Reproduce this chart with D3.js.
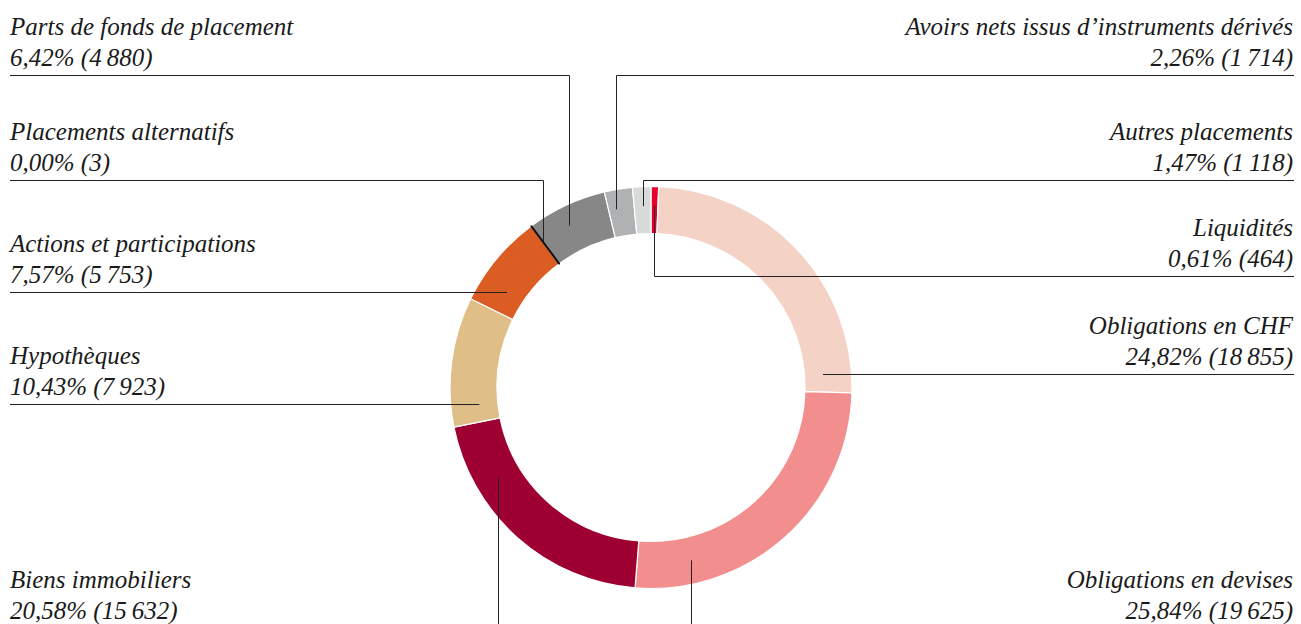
<!DOCTYPE html>
<html>
<head>
<meta charset="utf-8">
<script src="https://cdn.jsdelivr.net/npm/d3@7"></script>
<style>
  body { margin: 0; background: #fff; }
  svg { display: block; }
  .label { font-family: "Liberation Serif", "Times New Roman", Times, serif; font-style: italic; font-size: 25px; fill: #1a1a1a; }
  .leader { fill: none; stroke: #222; stroke-width: 1; }
</style>
</head>
<body>
<svg id="chart"></svg>
<script>
// clockwise from 12 o'clock
const categories = [
  'Liquidités',
  'Obligations en CHF',
  'Obligations en devises',
  'Biens immobiliers',
  'Hypothèques',
  'Actions et participations',
  'Placements alternatifs',
  'Parts de fonds de placement',
  'Avoirs nets issus d’instruments dérivés',
  'Autres placements',
];
const amounts = [464, 18855, 19625, 15632, 7923, 5753, 3, 4880, 1714, 1118];
const shares = ['0,61', '24,82', '25,84', '20,58', '10,43', '7,57', '0,00', '6,42', '2,26', '1,47'];
const colors = ['#e4002b', '#f4d2c5', '#f28f8e', '#9d0031', '#dfbe88', '#db5d24', '#111111', '#878787', '#b0b1b2', '#d8dad9'];

// label layout: side, y of the underline, leader kind, where on the slice the leader sits
const layout = [
  {side: 'right', lineY: 276, kind: 'up', t: 0.5},
  {side: 'right', lineY: 374, kind: 'flat'},
  {side: 'right', lineY: 628, kind: 'down', t: 0.81},
  {side: 'left', lineY: 628, kind: 'down', t: 0.745},
  {side: 'left', lineY: 404, kind: 'flat'},
  {side: 'left', lineY: 292, kind: 'flat'},
  {side: 'left', lineY: 180, kind: 'up', t: 0.5},
  {side: 'left', lineY: 75, kind: 'up', t: 0.42},
  {side: 'right', lineY: 75, kind: 'up', t: 0.3},
  {side: 'right', lineY: 180, kind: 'up', t: 0.5},
];

const width = 1301,
  height = 624;
const cx = 651,
  cy = 387.5;
const rInner = 154,
  rOuter = 201,
  rMid = (rInner + rOuter) / 2;
const leftX = 10,
  rightX = 1294;

const fmt = (n) => d3.format(',')(n).replace(/,/g, '\u2009');

const svg = d3.select('#chart').attr('width', width).attr('height', height);

const pie = d3.pie().sort(null).value((d) => d);
const arcs = pie(amounts);

const arc = d3.arc().innerRadius(rInner).outerRadius(rOuter);

const g = svg.append('g').attr('transform', `translate(${cx},${cy})`);

g.selectAll('path.slice')
  .data(arcs)
  .enter()
  .append('path')
  .attr('class', 'slice')
  .attr('d', arc)
  .attr('fill', (d, i) => colors[i])
  .attr('stroke', '#fff')
  .attr('stroke-width', 1.2)
  .attr('stroke-linejoin', 'bevel');

// the tiny slice shows up as a dark hairline
g.selectAll('path.slice')
  .filter((d) => d.endAngle - d.startAngle < 0.001)
  .attr('stroke', colors[6])
  .attr('stroke-width', 2)
  .raise();

// leader lines
const lines = svg.append('g');
arcs.forEach((d, i) => {
  const l = layout[i];
  const y = Math.round(l.lineY) + 0.5;
  const edge = l.side === 'left' ? leftX : rightX;
  let pts;
  if (l.kind === 'flat') {
    const r = rMid - 5;
    const dy = y - cy;
    const dx = Math.sqrt(r * r - dy * dy);
    const x = l.side === 'left' ? cx - dx : cx + dx;
    pts = [[edge, y], [x, y]];
  } else {
    const a = d.startAngle + (d.endAngle - d.startAngle) * l.t;
    const r = l.kind === 'up' ? rMid + 4 : rMid;
    const x = Math.round(cx + r * Math.sin(a)) + 0.5;
    const py = cy - r * Math.cos(a);
    pts = [[edge, y], [x, y], [x, py]];
  }
  lines.append('path').attr('class', 'leader').attr('d', d3.line()(pts));
});

// labels
const labels = svg.append('g');
categories.forEach((c, i) => {
  const l = layout[i];
  const x = l.side === 'left' ? leftX : rightX - 1;
  const anchor = l.side === 'left' ? 'start' : 'end';
  labels.append('text').attr('class', 'label').attr('x', x).attr('y', l.lineY - 40).attr('text-anchor', anchor).text(c);
  labels
    .append('text')
    .attr('class', 'label')
    .attr('x', x)
    .attr('y', l.lineY - 9)
    .attr('text-anchor', anchor)
    .text(`${shares[i]}% (${fmt(amounts[i])})`);
});
</script>
</body>
</html>
